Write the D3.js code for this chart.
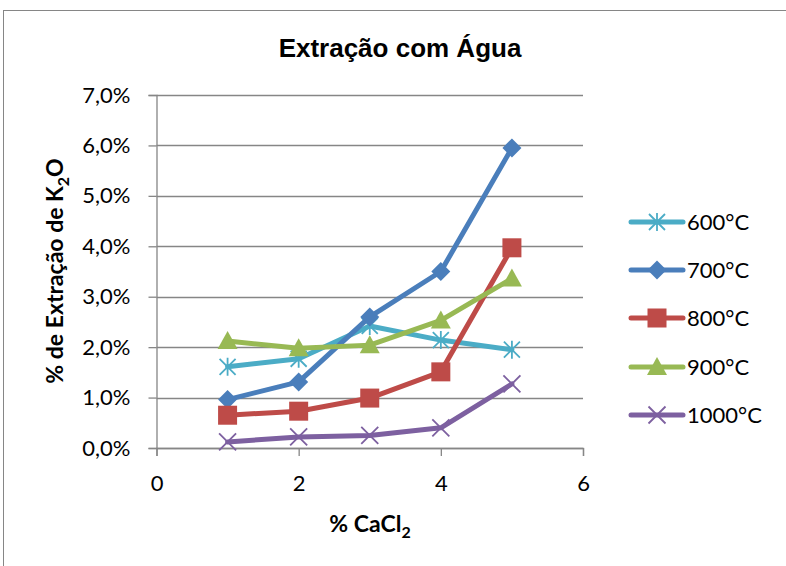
<!DOCTYPE html>
<html><head><meta charset="utf-8">
<script src="https://cdn.jsdelivr.net/npm/d3@7"></script>
<style>body{margin:0;background:#fff}</style>
</head><body>
<svg id="c" width="786" height="566"></svg>
<script>
const xValues = [1, 2, 3, 4, 5];
const seriesNames = ["600°C", "700°C", "800°C", "900°C", "1000°C"];
const s600 = [1.61, 1.77, 2.42, 2.14, 1.95];
const s700 = [0.96, 1.31, 2.60, 3.50, 5.95];
const s800 = [0.65, 0.73, 0.99, 1.51, 3.97];
const s900 = [2.12, 1.98, 2.04, 2.53, 3.36];
const s1000 = [0.12, 0.22, 0.25, 0.40, 1.27];
const yTicks = [0, 1, 2, 3, 4, 5, 6, 7];
const xTicks = [0, 2, 4, 6];
const colors = ["#4BACC6", "#4A7EBB", "#BE4B48", "#98B954", "#7D60A0"];
const markers = ["star", "diamond", "square", "triangle", "x"];
const allSeries = [s600, s700, s800, s900, s1000];
const FONT = "Lato, 'Noto Sans', sans-serif";

const svg = d3.select("#c");
svg.append("rect").attr("x", 3.5).attr("y", 10.5).attr("width", 790).attr("height", 570)
  .attr("fill", "#fff").attr("stroke", "#868686").attr("stroke-width", 1);

const x = d3.scaleLinear().domain([0, 6]).range([156.5, 583]);
const y = d3.scaleLinear().domain([0, 7]).range([448, 95]);

// grid
svg.append("g").selectAll("line").data(yTicks).join("line")
  .attr("x1", x(0)).attr("x2", x(6)).attr("y1", d => Math.round(y(d)) + 0.5).attr("y2", d => Math.round(y(d)) + 0.5)
  .attr("stroke", "#868686").attr("stroke-width", 1.3);

const fmt = d => d.toFixed(1).replace(".", ",") + "%";
const yAxis = svg.append("g").attr("transform", `translate(${x(0)},0)`)
  .call(d3.axisLeft(y).tickValues(yTicks).tickFormat(fmt).tickSize(8).tickPadding(18));
const xAxis = svg.append("g").attr("transform", `translate(0,${y(0)})`)
  .call(d3.axisBottom(x).tickValues(xTicks).tickFormat(d3.format("d")).tickSize(8).tickPadding(19));
[yAxis, xAxis].forEach(a => {
  a.select(".domain").attr("stroke", "#868686").attr("stroke-width", 1.3);
  a.selectAll(".tick line").attr("stroke", "#868686").attr("stroke-width", 1.3);
  a.selectAll("text").attr("font-family", FONT).attr("font-size", 22).attr("fill", "#000");
});

function drawMarker(g, type, cx, cy, color) {
  if (type === "diamond") {
    const r = 9.5;
    g.append("path").attr("d", `M${cx},${cy - r}L${cx + r},${cy}L${cx},${cy + r}L${cx - r},${cy}Z`).attr("fill", color);
  } else if (type === "square") {
    g.append("rect").attr("x", cx - 9.5).attr("y", cy - 9.5).attr("width", 19).attr("height", 19).attr("fill", color);
  } else if (type === "triangle") {
    g.append("path").attr("d", `M${cx},${cy - 10}L${cx + 10},${cy + 8}L${cx - 10},${cy + 8}Z`).attr("fill", color);
  } else if (type === "x") {
    const r = 8.5;
    g.append("path").attr("d", `M${cx - r},${cy - r}L${cx + r},${cy + r}M${cx - r},${cy + r}L${cx + r},${cy - r}`)
      .attr("stroke", color).attr("stroke-width", 1.8).attr("fill", "none");
  } else if (type === "star") {
    const r = 8;
    g.append("path").attr("d", `M${cx - r},${cy - r}L${cx + r},${cy + r}M${cx - r},${cy + r}L${cx + r},${cy - r}M${cx},${cy - r - 1}L${cx},${cy + r + 1}`)
      .attr("stroke", color).attr("stroke-width", 1.8).attr("fill", "none");
  }
}

const line = d3.line().x((d, i) => x(xValues[i])).y(d => y(d));
allSeries.forEach((s, k) => {
  const g = svg.append("g");
  g.append("path").attr("d", line(s)).attr("fill", "none").attr("stroke", colors[k])
    .attr("stroke-width", 5).attr("stroke-linejoin", "round").attr("stroke-linecap", "round");
  s.forEach((v, i) => drawMarker(g, markers[k], x(xValues[i]), y(v), colors[k]));
});

// legend
const legY = [222, 270, 318, 367, 415];
seriesNames.forEach((n, k) => {
  const g = svg.append("g");
  g.append("line").attr("x1", 631).attr("x2", 683).attr("y1", legY[k]).attr("y2", legY[k])
    .attr("stroke", colors[k]).attr("stroke-width", 5).attr("stroke-linecap", "round");
  drawMarker(g, markers[k], 657, legY[k], colors[k]);
  g.append("text").attr("x", 687).attr("y", legY[k] + 8).text(n)
    .attr("font-family", FONT).attr("font-size", 22).attr("fill", "#000");
});

// title
svg.append("text").attr("x", 400).attr("y", 57).attr("text-anchor", "middle")
  .attr("font-family", "'Liberation Sans', Arial, sans-serif").attr("font-weight", "bold").attr("font-size", 26).text("Extração com Água");

// x title
const xt = svg.append("text").attr("x", 370).attr("y", 532).attr("text-anchor", "middle")
  .attr("font-family", FONT).attr("font-weight", "bold").attr("font-size", 23);
xt.append("tspan").text("% CaCl");
xt.append("tspan").text("2").attr("font-size", 16).attr("dy", 6);

// y title
const yt = svg.append("text").attr("transform", "translate(63,271) rotate(-90)").attr("text-anchor", "middle")
  .attr("font-family", FONT).attr("font-weight", "bold").attr("font-size", 23);
yt.append("tspan").text("% de Extração de K");
yt.append("tspan").text("2").attr("font-size", 16).attr("dy", 6);
yt.append("tspan").text("O").attr("dy", -6);
</script>
</body></html>
